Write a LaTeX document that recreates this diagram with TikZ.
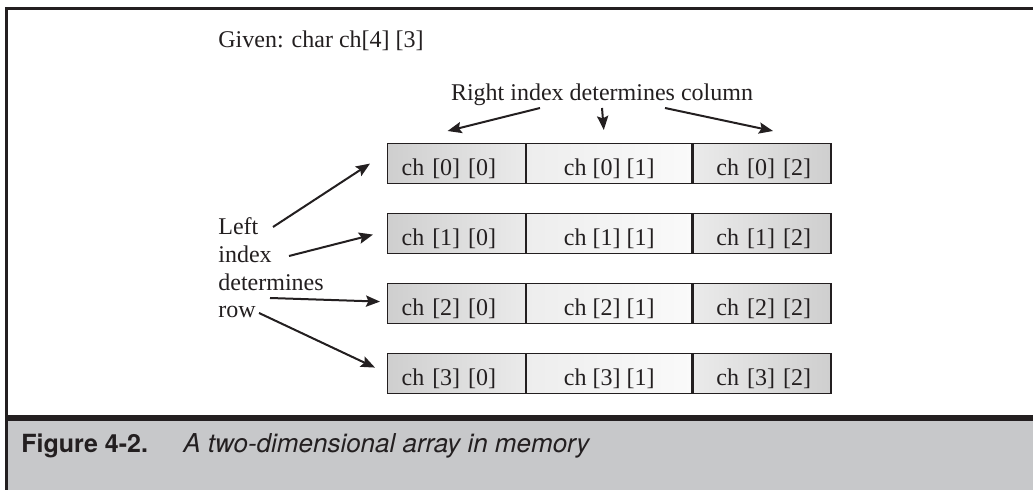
\documentclass[tikz,border=0pt]{standalone}
\usepackage{fontspec}
\setmainfont{Liberation Serif}
\newfontfamily\heros{TeX Gyre Heros}
\usetikzlibrary{positioning,calc,arrows.meta}
\definecolor{capgray}{RGB}{199,200,202}
\definecolor{ink}{RGB}{35,31,32}
\tikzstyle{lbl} = [anchor=base west, inner sep=0pt]
\tikzstyle{cell} = [draw=ink, line width=0.6pt, minimum height=20pt, inner ysep=0pt, text height=12pt, text depth=0pt]
\tikzstyle{lcell} = [cell, anchor=north west, minimum width=69pt, inner xsep=7pt, text width=55pt, align=left, left color=black!19, right color=black!8]
\tikzstyle{mcell} = [cell, minimum width=82.5pt, left color=black!7, right color=black!2]
\tikzstyle{rcell} = [cell, minimum width=69pt, inner xsep=10pt, text width=49pt, align=right, left color=black!8, right color=black!19]
\tikzstyle{to} = [-{Stealth[length=7pt,width=5.6pt,inset=1.2pt]}, line width=1pt, draw=ink]

\begin{document}
\begin{tikzpicture}[x=0.5pt, y=-0.5pt, text=ink, font=\fontsize{12}{13.8}\selectfont]
	\useasboundingbox (0,0) rectangle (1033,490);
	\fill[white] (0,0) rectangle (1033,490);
	% caption band and frame
	\fill[capgray] (6.5,418) rectangle (1033,490);
	\draw[ink, line width=1.4pt] (6.5,490) -- (6.5,8.7) -- (1033,8.7);
	\draw[ink, line width=2.8pt] (6.5,418) -- (1033,418);
	\node (fig) [lbl] at (21,453) {\heros\fontsize{12.5}{15}\selectfont\bfseries Figure 4-2.};
	\node (cap) [lbl] at (183,453) {\heros\fontsize{13}{15}\selectfont\itshape A two-dimensional array in memory};
	% texts
	\node (given) [lbl] at (218,48) {Given: char ch[4] [3]};
	\node (right) [anchor=base, inner sep=0pt] at (602,101) {Right index determines column};
	\node (lleft) [lbl] at (218,235) {Left};
	\node (lindex) [lbl] at (218,263) {index};
	\node (ldet) [lbl] at (218,291) {determines};
	\node (lrow) [lbl] at (218,318) {row};
	% the array
	\foreach \r in {0,...,3} {
		\node (c\r0) [lcell] at (387,{143+70*\r}) {ch [\r] [0]};
		\node (c\r1) [mcell, right=0pt of c\r0] {ch [\r] [1]};
		\node (c\r2) [rcell, right=0pt of c\r1] {ch [\r] [2]};
	}
	% column arrows
	\draw [to] ($(right.base)+(-62,7)$) -- ($(c00.north)+(-9,-12)$);
	\draw [to] ($(right.base)+(0,7)$) -- ($(c01.north)+(-5.5,-13)$);
	\draw [to] ($(right.base)+(63,7)$) -- ($(c02.north)+(11,-12)$);
	% row arrows
	\draw [to] ($(lleft.base west)+(55,-8)$) -- ($(c00.west)+(-17,0)$);
	\draw [to] ($(lindex.base west)+(71,-7)$) -- ($(c10.west)+(-14,1)$);
	\draw [to] ($(ldet.base west)+(52,7)$) -- ($(c20.west)+(-7,-2)$);
	\draw [to] ($(lrow.base west)+(41,-5)$) -- ($(c30.west)+(-12,-6)$);
\end{tikzpicture}
\end{document}
